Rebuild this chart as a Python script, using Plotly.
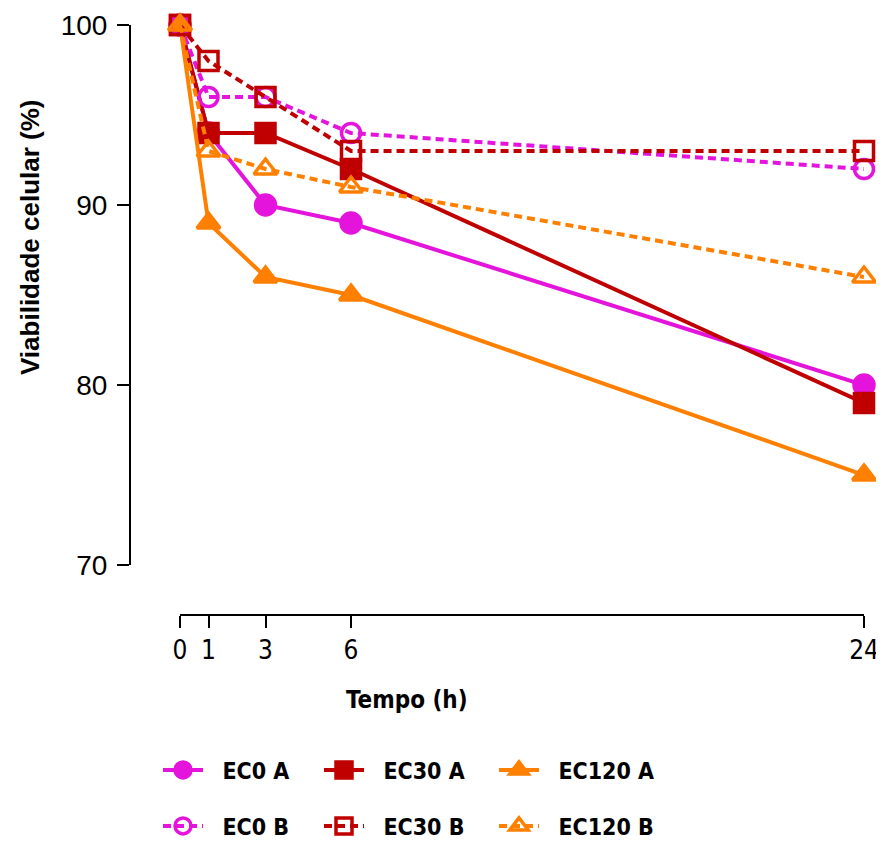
import plotly.graph_objects as go

# Data
time_h = [0, 1, 3, 6, 24]
ec0_a = [100, 94, 90, 89, 80]
ec30_a = [100, 94, 94, 92, 79]
ec120_a = [100, 89, 86, 85, 75]
ec0_b = [100, 96, 96, 94, 92]
ec30_b = [100, 98, 96, 93, 93]
ec120_b = [100, 93, 92, 91, 86]
x_ticks = [0, 1, 3, 6, 24]
y_ticks = [70, 80, 90, 100]

MAG = "#E414DC"
RED = "#C00000"
ORA = "#FF8000"
DOT = "8px,5px"

NARROW = "DejaVu Sans Condensed, Liberation Sans Narrow, Arial Narrow, Liberation Sans"
OFF = 8  # page body margin

W, H = 884, 846
L, T = 130 - OFF, 25 - OFF
R = W - (864 - OFF)
B = H - (615 - OFF)
PW, PH = W - L - R, H - T - B

def px_x(p):
    return (p - OFF - L) / PW

def px_y(p):
    return (H - B - (p - OFF)) / PH

series = [
    ("EC0 A", ec0_a, MAG, "solid", "circle", 20, "legend"),
    ("EC30 A", ec30_a, RED, "solid", "square", 19, "legend2"),
    ("EC120 A", ec120_a, ORA, "solid", "triangle-up", 20, "legend3"),
    ("EC0 B", ec0_b, MAG, DOT, "circle-open", 19, "legend4"),
    ("EC30 B", ec30_b, RED, DOT, "square-open", 19, "legend5"),
    ("EC120 B", ec120_b, ORA, DOT, "triangle-up-open", 20, "legend6"),
]

fig = go.Figure()
for name, vals, col, dash, sym, size, leg in series:
    fig.add_trace(go.Scatter(
        x=time_h, y=vals, name="\u00a0\u00a0" + name, mode="lines+markers",
        line=dict(color=col, width=4, dash=dash),
        marker=dict(symbol=sym, size=size, color=col,
                    line=dict(color=col, width=3.5)),
        cliponaxis=False, legend=leg,
    ))

legfont = dict(family=NARROW, size=23, color="black", weight="bold")
col_x = [158, 319, 494]
row_y = [770, 826]
legends = {}
names = ["legend", "legend2", "legend3", "legend4", "legend5", "legend6"]
for i, ln in enumerate(names):
    r, c = divmod(i, 3)
    legends[ln] = dict(
        x=px_x(col_x[c]), y=px_y(row_y[r]), xanchor="left", yanchor="middle",
        xref="paper", yref="paper", font=legfont, bgcolor="rgba(0,0,0,0)",
        itemwidth=40,
    )

fig.update_layout(
    width=W, height=H,
    margin=dict(l=L, r=R, t=T, b=B, autoexpand=False),
    plot_bgcolor="white", paper_bgcolor="white",
    showlegend=True,
    **legends,
    xaxis=dict(
        domain=[50 / PW, 1], range=[0, 24], anchor="free", position=0,
        tickvals=x_ticks, ticktext=[str(v) for v in x_ticks],
        showline=True, linecolor="black", linewidth=2,
        ticks="outside", ticklen=12, tickwidth=2, tickcolor="black",
        showgrid=False, zeroline=False, automargin=False,
        tickfont=dict(family=NARROW, size=26, color="black"),
    ),
    yaxis=dict(
        domain=[50 / PH, 1], range=[70, 100], anchor="free", position=0,
        tickvals=y_ticks, ticktext=[str(v) for v in y_ticks],
        showline=True, linecolor="black", linewidth=2,
        ticks="outside", ticklen=12, tickwidth=2, tickcolor="black",
        showgrid=False, zeroline=False, ticklabelstandoff=4, automargin=False,
        tickfont=dict(family="Liberation Sans, Arial", size=28, color="black"),
    ),
    annotations=[
        dict(text="<b>Tempo (h)</b>", x=px_x(407), y=px_y(700), xref="paper", yref="paper",
             showarrow=False, xanchor="center", yanchor="middle",
             font=dict(family=NARROW, size=24, color="black")),
        dict(text="<b>Viabilidade celular (%)</b>", x=px_x(30), y=px_y(237), xref="paper", yref="paper",
             showarrow=False, xanchor="center", yanchor="middle", textangle=-90,
             font=dict(family="Liberation Sans, Arial", size=26, color="black")),
    ],
)

fig.write_html("out.html")
